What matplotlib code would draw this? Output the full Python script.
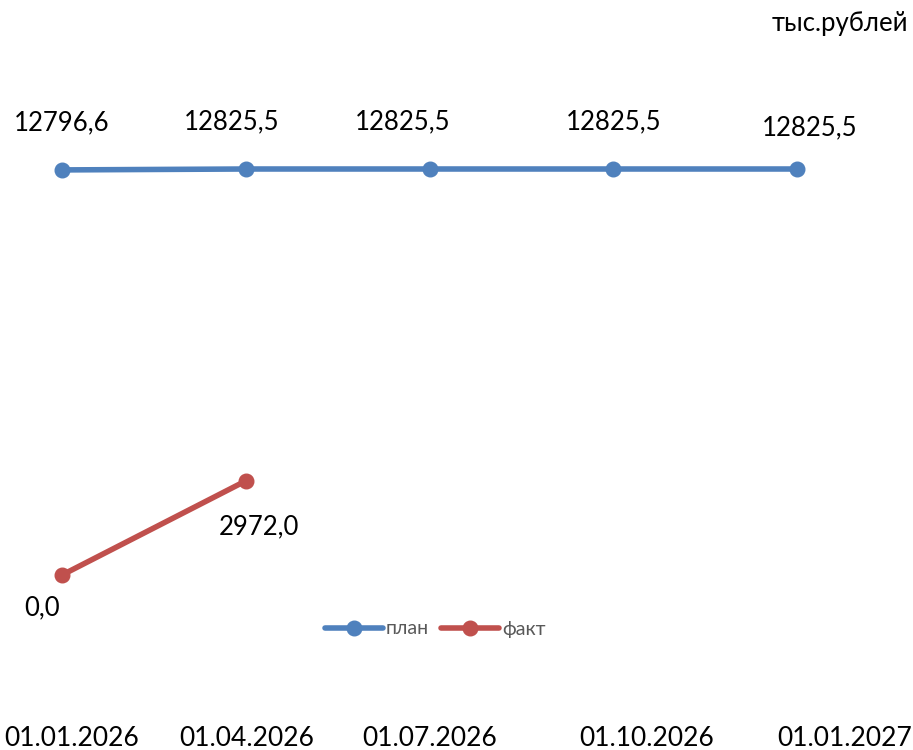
import matplotlib.pyplot as plt

# --- data ---
dates = ['01.01.2026', '01.04.2026', '01.07.2026', '01.10.2026', '01.01.2027']
plan = [12796.6, 12825.5, 12825.5, 12825.5, 12825.5]
fact = [0.0, 2972.0]
unit_label = 'тыс.рублей'

BLUE = '#4F81BD'
RED = '#C0504D'
FONT = ['Lato', 'DejaVu Sans']

plt.rcParams['font.family'] = FONT

W, H = 913, 750
fig = plt.figure(figsize=(W / 100, H / 100), dpi=100)

# plot area in pixels (left, right, top, bottom of data range)
x0, x1, ytop, ybot = 62, 797, 169, 575
ax = fig.add_axes([x0 / W, 1 - ybot / H, (x1 - x0) / W, (ybot - ytop) / H])
ax.set_xlim(0, len(dates) - 1)
ax.set_ylim(0, max(plan))
ax.axis('off')

xs = list(range(len(dates)))
ax.plot(xs, plan, color=BLUE, lw=4, marker='o', ms=10.5, label='план',
        clip_on=False, solid_capstyle='round')
ax.plot(xs[:len(fact)], fact, color=RED, lw=4, marker='o', ms=10.5, label='факт',
        clip_on=False, solid_capstyle='round')

def fmt(v):
    return f'{v:.1f}'.replace('.', ',')

# label offsets in pixels (Excel nudged some of them by hand)
px = 0.72
FS = 18.5
plan_off = [(0, 47), (-14, 47), (-27, 47), (0, 47), (13, 41)]
fact_off = [(-20, -33), (13, -46)]
for x, v, (dx, dy) in zip(xs, plan, plan_off):
    ax.annotate(fmt(v), (x, v), xytext=(dx * px, dy * px), textcoords='offset points',
                ha='center', va='center', fontsize=FS, color='black', annotation_clip=False)
for x, v, (dx, dy) in zip(xs, fact, fact_off):
    ax.annotate(fmt(v), (x, v), xytext=(dx * px, dy * px), textcoords='offset points',
                ha='center', va='center', fontsize=FS, color='black', annotation_clip=False)

# date captions along the bottom
date_x = [72, 247, 430, 647, 845]
for d, xp in zip(dates, date_x):
    fig.text(xp / W, 1 - 739 / H, d, ha='center', va='center', fontsize=FS + 0.5)

fig.text(908 / W, 1 - 24 / H, unit_label, ha='right', va='center', fontsize=FS)

leg = fig.legend(loc='center', bbox_to_anchor=(435 / W, 1 - 629 / H), ncol=2,
                 frameon=False, fontsize=14, handlelength=3.0, handletextpad=0.15,
                 columnspacing=0.6, labelcolor='#595959')

fig.savefig('out.png', dpi=100)
